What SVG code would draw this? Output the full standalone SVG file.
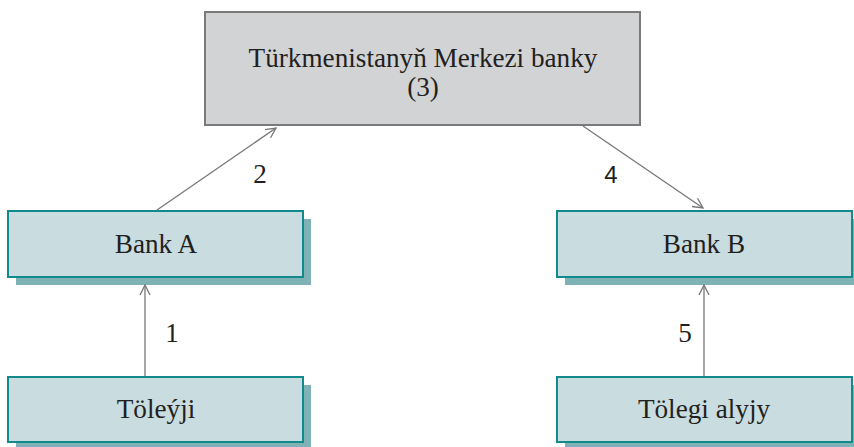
<svg xmlns="http://www.w3.org/2000/svg" width="854" height="447" viewBox="0 0 854 447">
<style>
text{font-family:'Liberation Serif','Times New Roman',Times,serif;font-size:27.2px;fill:#231f20;text-anchor:middle}
.box{fill:#c9dde0;stroke:#12898a;stroke-width:2}
.sh{fill:#7fb2b4}
.c{stroke:#777;stroke-width:1.3;fill:none}
</style>
<defs>
<marker id="ah" viewBox="0 0 12 12" refX="11" refY="6" markerWidth="12" markerHeight="12" markerUnits="userSpaceOnUse" orient="auto">
<path d="M1,1 L11,6 L1,11" fill="none" stroke="#777" stroke-width="1.3"/>
</marker>
</defs>
<rect width="854" height="447" fill="#fff"/>
<g id="central">
<rect x="205" y="12" width="435" height="113" fill="#d2d3d5" stroke="#7a7a7a" stroke-width="2"/>
<text x="423" y="67">Türkmenistanyň Merkezi banky</text>
<text x="423" y="96">(3)</text>
</g>
<g id="bankA">
<rect class="sh" x="16" y="219" width="295" height="66"/>
<rect class="box" x="8" y="211" width="295" height="66"/>
<text x="156" y="253">Bank A</text>
</g>
<g id="bankB">
<rect class="sh" x="565" y="219" width="295" height="66"/>
<rect class="box" x="557" y="211" width="295" height="66"/>
<text x="704" y="253">Bank B</text>
</g>
<g id="payer">
<rect class="sh" x="16" y="385" width="295" height="66"/>
<rect class="box" x="8" y="377" width="295" height="65"/>
<text x="156" y="418">Töleýji</text>
</g>
<g id="payee">
<rect class="sh" x="565" y="385" width="295" height="66"/>
<rect class="box" x="557" y="377" width="295" height="65"/>
<text x="704" y="418">Tölegi alyjy</text>
</g>
<g id="connectors">
<line class="c" x1="157" y1="210" x2="276" y2="128" marker-end="url(#ah)"/>
<line class="c" x1="583" y1="126" x2="703" y2="208" marker-end="url(#ah)"/>
<line class="c" x1="145" y1="376" x2="145" y2="285" stroke-width="1.6" marker-end="url(#ah)"/>
<line class="c" x1="704" y1="376" x2="704" y2="285" stroke-width="1.6" marker-end="url(#ah)"/>
<text x="260" y="183">2</text>
<text x="611" y="183" style="font-family:'Liberation Sans',Arial,sans-serif;font-size:24px">4</text>
<text x="172" y="342">1</text>
<text x="685" y="342">5</text>
</g>
</svg>
